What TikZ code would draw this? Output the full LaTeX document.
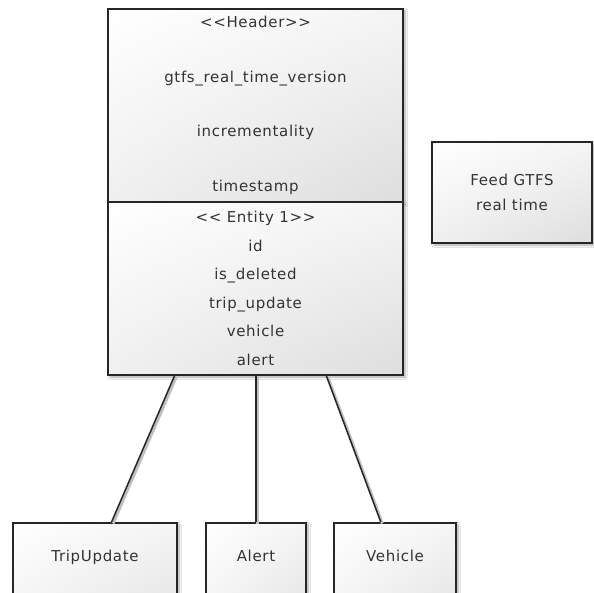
\documentclass[tikz,border=0pt]{standalone}
\usepackage{fontspec}
\setmainfont[LetterSpace=4.5]{DejaVu Sans}
\usetikzlibrary{calc,shadings,shadows.blur}

\tikzset{
  box/.style={draw=black!85, line width=1.6pt, rectangle, shade,
    upper left=white, upper right=black!4, lower left=black!6, lower right=black!13,
    text=black!80, align=center, inner sep=0pt,
    blur shadow={shadow xshift=2pt, shadow yshift=-2pt, shadow blur steps=6, shadow opacity=35}},
  leaf/.style={box, anchor=north, text height=11pt, text depth=60pt, inner ysep=27.5pt},
  link/.style={line width=1.5pt, black!85,
    preaction={draw, black!25, line width=3pt, transform canvas={shift={(1.5pt,-1.5pt)}}}}
}

\begin{document}
\begin{tikzpicture}[x=1pt, y=-1pt, font=\fontsize{15}{18}\selectfont]
    % Page
    \useasboundingbox (0,0) rectangle (594,593);
    \fill[white] (0,0) rectangle (594,593);

    % Feed message: header and entity
    \node[box, minimum width=295pt, minimum height=193pt,
          font=\fontsize{15}{54.7}\selectfont] (header) at (255.5,105.5)
        {<{}<Header>{}>\\gtfs\_real\_time\_version\\incrementality\\timestamp};
    \node[box, minimum width=295pt, minimum height=173pt,
          font=\fontsize{15}{28.6}\selectfont] (entity) at (255.5,288.5)
        {<{}< Entity 1>{}>\\id\\is\_deleted\\trip\_update\\vehicle\\alert};

    % Title box
    \node[box, minimum width=160pt, minimum height=101pt,
          font=\fontsize{15}{25}\selectfont] (feed) at (512,192.5)
        {Feed GTFS\\real time};

    % Entity types
    \node[leaf, minimum width=164pt] (trip) at (95,522) {TripUpdate};
    \node[leaf, minimum width=100pt] (alert) at (256,522) {Alert};
    \node[leaf, minimum width=122pt] (vehicle) at (395,522) {Vehicle};

    % Links from entity
    \draw[link] ($(entity.south west)!0.227!(entity.south east)$)
        -- ($(trip.north west)!0.6!(trip.north east)$);
    \draw[link] (alert.north |- entity.south) -- (alert.north);
    \draw[link] ($(entity.south west)!0.739!(entity.south east)$)
        -- ($(vehicle.north west)!0.385!(vehicle.north east)$);
\end{tikzpicture}
\end{document}
